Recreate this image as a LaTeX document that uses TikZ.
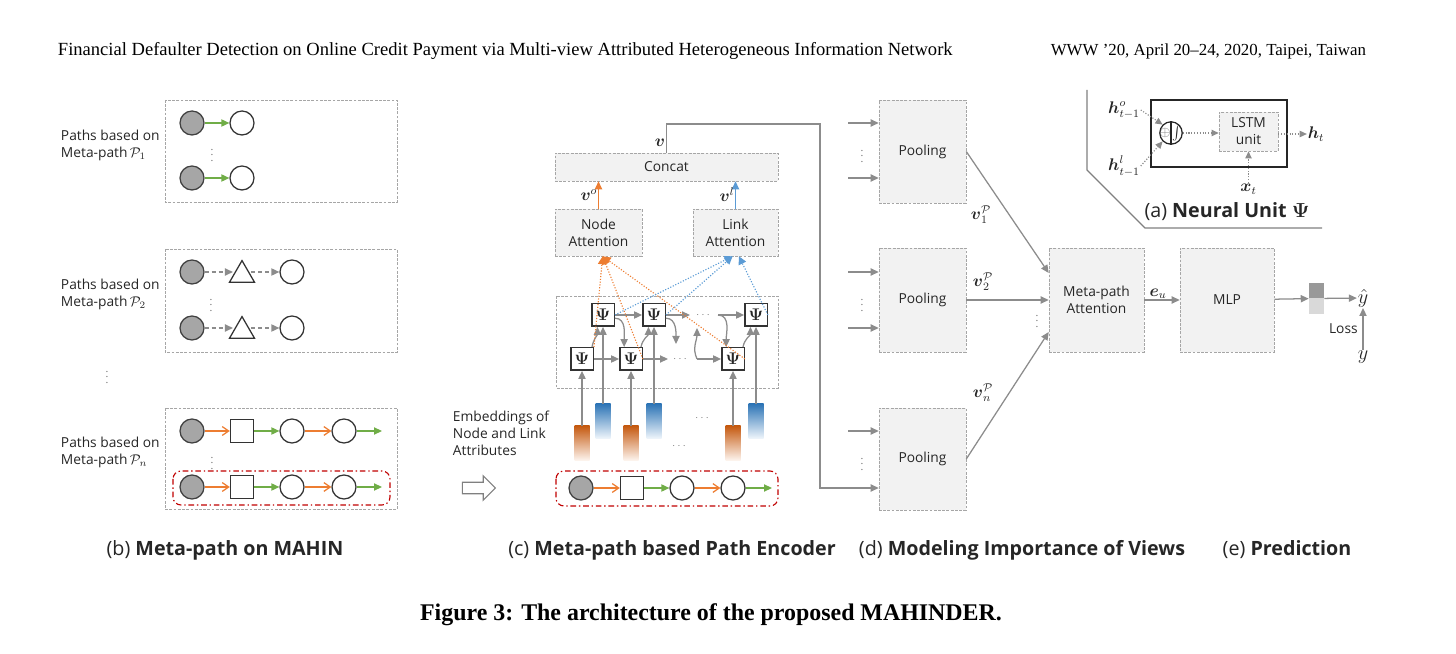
\documentclass[tikz,border=0pt]{standalone}
\usepackage{amsmath}
\usepackage{fontspec}
\setmainfont{Liberation Serif}
\newfontfamily\figfont{Open Sans}
\usetikzlibrary{arrows.meta,shapes.geometric,shapes.arrows}
\definecolor{myorange}{HTML}{ED7D31}
\definecolor{mygreen}{HTML}{70AD47}
\definecolor{myblue}{HTML}{5B9BD5}
\definecolor{myred}{HTML}{C00000}
\definecolor{boxgray}{HTML}{F2F2F2}
\definecolor{linegray}{HTML}{8C8C8C}
\definecolor{dashgray}{HTML}{A6A6A6}
\definecolor{darkorange}{HTML}{C55A11}
\definecolor{darkblue}{HTML}{2E75B6}
\begin{document}
\begin{tikzpicture}[x=0.25mm,y=-0.25mm,
    font=\figfont\fontsize{9.8}{12}\selectfont,text=black!85,
    gbox/.style={draw=dashgray,dash pattern=on 2pt off 1pt,fill=boxgray,inner sep=0pt,align=center},
    frame/.style={draw=dashgray,dash pattern=on 2pt off 1pt,line width=0.7pt},
    redframe/.style={draw=myred,line width=0.8pt,dash pattern=on 4pt off 2pt on 1pt off 2pt,rounded corners=2mm},
    gcirc/.style={circle,draw=black!75,fill=black!35,line width=0.9pt,minimum size=6mm,inner sep=0pt},
    wcirc/.style={circle,draw=black!80,fill=white,line width=0.9pt,minimum size=6mm,inner sep=0pt},
    sqnode/.style={rectangle,draw=black!80,fill=white,line width=0.9pt,minimum size=5.8mm,inner sep=0pt},
    trinode/.style={regular polygon,regular polygon sides=3,draw=black!80,line width=0.9pt,minimum size=7.2mm,inner sep=0pt},
    psi/.style={draw=black!80,line width=1pt,fill=white,minimum size=5.6mm,inner sep=0pt,font=\fontsize{12}{14}\selectfont},
    emb/.style={minimum width=3.75mm,minimum height=8.75mm,inner sep=0pt},
    grarr/.style={draw=linegray,line width=0.9pt,-{Triangle[length=2mm,width=1.8mm]}},
    garr/.style={draw=mygreen,line width=0.9pt,-{Triangle[length=2mm,width=1.8mm]}},
    oarr/.style={draw=myorange,line width=0.9pt,-{Straight Barb[length=1.6mm,width=2.2mm]}},
    darr/.style={grarr,dash pattern=on 3pt off 2pt},
    oup/.style={draw=myorange,line width=0.9pt,-{Triangle[length=2mm,width=1.8mm]}},
    bup/.style={draw=myblue,line width=0.9pt,-{Triangle[length=2mm,width=1.8mm]}},
    odot/.style={draw=myorange,line width=0.8pt,dash pattern=on 0.8pt off 1.2pt,-{Triangle[length=2mm,width=2mm]}},
    bdot/.style={draw=myblue,line width=0.8pt,dash pattern=on 0.8pt off 1.2pt,-{Triangle[length=2mm,width=2mm]}},
    dotarr/.style={draw=linegray,line width=0.8pt,dash pattern=on 0.8pt off 1.2pt,-{Triangle[length=1.8mm,width=1.6mm]}},
    vdots/.style={text=black!55,font=\footnotesize,inner sep=0pt},
    hdots/.style={text=black!55,font=\scriptsize,inner sep=0pt},
    mlab/.style={font=\fontsize{12}{14}\selectfont,inner sep=0.5pt},
    sub/.style={font=\figfont\fontsize{14}{16}\selectfont}]
\useasboundingbox (0,0) rectangle (1456,654);

% header and caption
\node[anchor=west,font=\rmfamily\fontsize{13.2}{15}\selectfont,text=black] (head) at (53,51) {Financial Defaulter Detection on Online Credit Payment via Multi-view Attributed Heterogeneous Information Network};
\node[anchor=east,font=\rmfamily\fontsize{12}{15}\selectfont,text=black] (conf) at (1371,51) {WWW ’20, April 20–24, 2020, Taipei, Taiwan};
\node[font=\rmfamily\bfseries\fontsize{17}{20}\selectfont,text=black] (cap) at (711,615) {Figure 3: The architecture of the proposed MAHINDER.};

% (b) meta-paths
\draw[frame] (165,100) rectangle (397,202);
\draw[frame] (165,249) rectangle (397,352);
\draw[frame] (165,408) rectangle (397,509);
\draw[redframe] (173,471) rectangle (390,505);
\node[align=left,anchor=west] (lab1) at (56,145) {Paths based on\\Meta-path$\,\mathcal{P}_1$};
\node[align=left,anchor=west] (lab2) at (56,294) {Paths based on\\Meta-path$\,\mathcal{P}_2$};
\node[align=left,anchor=west] (lab3) at (56,452) {Paths based on\\Meta-path$\,\mathcal{P}_n$};
\foreach \yy in {123,178}{
    \node[gcirc] (pa\yy) at (192,\yy) {};
    \node[wcirc] (pb\yy) at (242,\yy) {};
    \draw[garr] (pa\yy) -- (pb\yy);
}
\foreach \yy in {272,328}{
    \node[gcirc] (qa\yy) at (192,\yy) {};
    \node[trinode] (qb\yy) at (242,\yy+3) {};
    \node[wcirc] (qc\yy) at (292,\yy) {};
    \draw[darr] (qa\yy) -- (qb\yy.west |- qa\yy);
    \draw[darr] (qb\yy.east |- qc\yy) -- (qc\yy);
}
\foreach \yy in {431,487}{
    \node[gcirc] (ra\yy) at (192,\yy) {};
    \node[sqnode] (rb\yy) at (242,\yy) {};
    \node[wcirc] (rc\yy) at (292,\yy) {};
    \node[wcirc] (rd\yy) at (344,\yy) {};
    \coordinate (re\yy) at (382,\yy);
    \draw[oarr] (ra\yy) -- (rb\yy);
    \draw[garr] (rb\yy) -- (rc\yy);
    \draw[oarr] (rc\yy) -- (rd\yy);
    \draw[garr] (rd\yy) -- (re\yy);
}
\node[vdots] (bd1) at (212,151) {$\vdots$};
\node[vdots] (bd2) at (211,301) {$\vdots$};
\node[vdots] (bd3) at (212,459) {$\vdots$};
\node[vdots] (bd0) at (107,373) {$\vdots$};
\node[sub] (capb) at (225,550) {(b) \textbf{Meta-path on MAHIN}};

% (c) path encoder
\node[gbox,minimum width=55.75mm,minimum height=7mm] (cc) at (666.5,167) {Concat};
\node[gbox,minimum width=21.75mm,minimum height=11.75mm] (na) at (598.5,232.5) {Node\\Attention};
\node[gbox,minimum width=21.25mm,minimum height=11.75mm] (la) at (735.5,232.5) {Link\\Attention};
\draw[oup] (na.north) -- (na.north |- cc.south) node[midway,left,mlab] {$\boldsymbol{v}^o$};
\draw[bup] (la.north) -- (la.north |- cc.south) node[midway,left,mlab] {$\boldsymbol{v}^l$};
\draw[frame] (556,296) rectangle (778,388);
\foreach \n/\xx in {1/603,2/654,3/756}
    \node[psi] (t\n) at (\xx,315) {$\boldsymbol{\Psi}$};
\foreach \n/\xx in {1/582,2/631,3/733}
    \node[psi] (b\n) at (\xx,359) {$\boldsymbol{\Psi}$};
\foreach \n/\xx in {1/582,2/631,3/733}{
    \node[emb,top color=darkorange,bottom color=myorange!6] (e\n) at (\xx,443.5) {};
    \draw[grarr] (e\n) -- (b\n);
}
\foreach \n/\xx in {1/603,2/654,3/756}{
    \node[emb,top color=darkblue,bottom color=myblue!8] (u\n) at (\xx,421.5) {};
    \draw[grarr] (u\n) -- (t\n);
}
\node[hdots] (ed1) at (703,418) {$\cdots$};
\node[hdots] (ed2) at (680,446) {$\cdots$};
\draw[grarr] (b1) -- (b2);
\draw[grarr] (t1) -- (t2);
\coordinate (tq) at (690,315);
\coordinate (tp) at (718,315);
\coordinate (tf) at (676,344);
\coordinate (bq) at (668,359);
\coordinate (bp) at (697,359);
\coordinate (bu) at (697,328);
\draw[grarr] (t2) -- (tq);
\node[hdots] (td) at (704,315) {$\cdots$};
\draw[grarr] (tp) -- (t3);
\draw[grarr] (b2) -- (bq);
\node[hdots] (bdd) at (681,359) {$\cdots$};
\draw[grarr] (bp) -- (b3);
\draw[grarr] (t1.-15) to[out=0,in=90] (b2.120);
\draw[grarr] (t2.-15) to[out=0,in=90] (tf);
\draw[grarr] (tp) to[out=0,in=90] (b3.120);
\draw[grarr] (bp) to[out=115,in=-90] (bu);
\draw[grarr] (b1.50) to[out=80,in=-90] (t1.245);
\draw[grarr] (b2.50) to[out=80,in=-90] (t2.245);
\draw[grarr] (b3.50) to[out=80,in=-90] (t3.245);
\foreach \s in {b1.north east,b2.east,b3.east}
    \draw[odot] (\s) -- (na.-80);
\draw[bdot] (t1.east) -- (la.-97);
\draw[bdot] (t2.east) -- (la.-97);
\draw[bdot] (t3.east) -- (la.-82);
\node[align=left,anchor=west] (emblab) at (448,433) {Embeddings of\\Node and Link\\Attributes};
\node[single arrow,draw=black!50,fill=white,line width=0.8pt,minimum height=8.25mm,inner xsep=0pt,inner ysep=1.3mm,single arrow head extend=1.6mm] (harr) at (476,488) {};
\draw[redframe] (556,471) rectangle (778,506);
\node[gcirc] (sa) at (581,488) {};
\node[sqnode] (sb) at (632,488) {};
\node[wcirc] (sc) at (682,488) {};
\node[wcirc] (sd) at (733,488) {};
\coordinate (se) at (772,488);
\draw[oarr] (sa) -- (sb);
\draw[garr] (sb) -- (sc);
\draw[oarr] (sc) -- (sd);
\draw[garr] (sd) -- (se);
\node[sub] (capc) at (672,550) {(c) \textbf{Meta-path based Path Encoder}};

% (d) views
\node[gbox,minimum width=21.75mm,minimum height=25.75mm] (pool1) at (922.5,151.5) {Pooling};
\node[gbox,minimum width=21.75mm,minimum height=26mm] (pool2) at (922.5,300) {Pooling};
\node[gbox,minimum width=21.75mm,minimum height=25.5mm] (pool3) at (922.5,459) {Pooling};
\foreach \p/\ya/\yb in {1/123/178,2/272/328}{
    \coordinate (ia\p) at (848,\ya);
    \coordinate (ib\p) at (848,\yb);
    \draw[grarr] (ia\p) -- (pool\p.west |- ia\p);
    \draw[grarr] (ib\p) -- (pool\p.west |- ib\p);
}
\coordinate (ia3) at (848,431);
\draw[grarr] (ia3) -- (pool3.west |- ia3);
\coordinate (vturn) at (820,124);
\coordinate (vin) at (820,488);
\draw[grarr] (cc.north) -- node[left,pos=0.35,mlab] {$\boldsymbol{v}$} (cc.north |- vturn) -- (vturn) -- (vin) -- (pool3.west |- vin);
\node[vdots] (pd1) at (862,152) {$\vdots$};
\node[vdots] (pd2) at (862,301) {$\vdots$};
\node[vdots] (pd3) at (862,460) {$\vdots$};
\node[gbox,minimum width=23.75mm,minimum height=26mm] (ma) at (1096.5,300) {Meta-path\\Attention};
\draw[grarr] (pool1.east) -- ([yshift=6.75mm]ma.west);
\draw[grarr] (pool2) -- (ma);
\draw[grarr] (pool3.east) -- ([yshift=-8mm]ma.west);
\node[mlab] (vp1) at (981,215) {$\boldsymbol{v}_1^{\mathcal{P}}$};
\node[mlab] (vp2) at (983,282) {$\boldsymbol{v}_2^{\mathcal{P}}$};
\node[mlab] (vpn) at (983,393) {$\boldsymbol{v}_n^{\mathcal{P}}$};
\node[vdots] (md) at (1037,317) {$\vdots$};
\node[sub] (capd) at (1022,550) {(d) \textbf{Modeling Importance of Views}};

% (e) prediction
\node[gbox,minimum width=23.5mm,minimum height=26mm] (mlp) at (1227,300) {MLP};
\draw[grarr] (ma) -- (mlp) node[midway,above,mlab,xshift=-1mm] {$\boldsymbol{e}_u$};
\node[minimum width=3.75mm,minimum height=7.75mm,inner sep=0pt,fill=black!15] (out) at (1316.5,298.5) {};
\fill[black!40] (out.north west) rectangle (out.east);
\draw[grarr] (mlp) -- (out);
\node[mlab,font=\fontsize{14}{16}\selectfont] (yhat) at (1363,298) {$\hat{y}$};
\draw[grarr] (out) -- (yhat);
\node[mlab,font=\fontsize{14}{16}\selectfont] (ytrue) at (1363,357) {$y$};
\draw[grarr] (ytrue) -- (yhat) node[midway,left] {Loss};
\node[sub] (cape) at (1287,550) {(e) \textbf{Prediction}};

% (a) neural unit
\draw[draw=black!50,line width=0.8pt] (1087,90) -- (1087,170) -- (1145,228) -- (1322,228);
\node[draw=black!85,line width=1pt,minimum width=34mm,minimum height=16.75mm] (nu) at (1219,133.5) {};
\node[circle,draw=black!85,line width=0.9pt,minimum size=5.6mm,inner sep=0pt] (sum) at (1171,133) {};
\draw[black!85,line width=0.9pt] (sum.north) -- (sum.south);
\node[text=black!60,inner sep=0pt,font=\normalsize] (oplus) at (1165,133) {$\oplus$};
\node[inner sep=0pt,font=\normalsize] (integ) at (1177,133) {$\int$};
\node[gbox,minimum width=14.75mm,minimum height=9.75mm] (lstm) at (1248.5,131.5) {LSTM\\unit};
\draw[dotarr] (sum.east) -- (lstm.west |- sum.east);
\node[mlab] (ht) at (1316,134) {$\boldsymbol{h}_t$};
\draw[dotarr] (lstm.east |- ht) -- (ht);
\node[mlab] (ho) at (1124,110) {$\boldsymbol{h}^o_{t-1}$};
\draw[dotarr] (ho.east) -- (sum.135);
\node[mlab] (hl) at (1124,166) {$\boldsymbol{h}^l_{t-1}$};
\draw[dotarr] (hl.east) -- (sum.-135);
\node[mlab] (xt) at (1248.5,189) {$\boldsymbol{x}_t$};
\draw[dotarr] (xt) -- (lstm);
\node[sub] (capa) at (1227,212) {(a) \textbf{Neural Unit $\boldsymbol{\Psi}$}};
\end{tikzpicture}
\end{document}
